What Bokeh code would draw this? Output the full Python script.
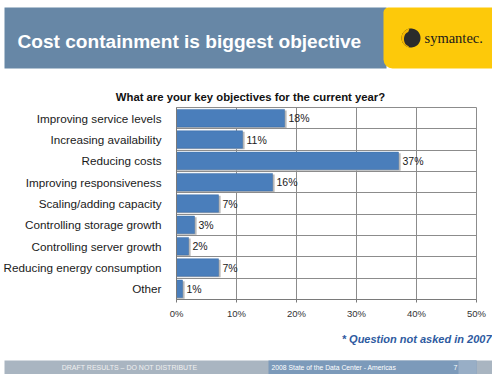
import numpy as np
from bokeh.plotting import figure
from bokeh.layouts import column
from bokeh.models import (Range1d, FixedTicker, PrintfTickFormatter, ColumnDataSource)
from bokeh.core.properties import value
from bokeh.transform import dodge
from bokeh.embed import file_html
from bokeh.resources import INLINE

# ---- data ----
categories = ["Improving service levels", "Increasing availability", "Reducing costs",
              "Improving responsiveness", "Scaling/adding capacity",
              "Controlling storage growth", "Controlling server growth",
              "Reducing energy consumption", "Other"]
percents = [18, 11, 37, 16, 7, 3, 2, 7, 1]
x_ticks = [0, 10, 20, 30, 40, 50]
title_text = "Cost containment is biggest objective"
subtitle_text = "What are your key objectives for the current year?"
note_text = "* Question not asked in 2007"
footer_left = "DRAFT RESULTS \u2013 DO NOT DISTRIBUTE"
footer_mid = "2008 State of the Data Center - Americas"
footer_page = "7"
logo_text = "symantec."

W = 492
FONT = "Liberation Sans"
H1, H2, H3 = 104, 218, 52   # banner, chart, footer heights


def no_align(f):
    try:
        f.frame_align = False
    except Exception:
        pass


def blank(h, y0):
    """Decoration figure whose data units are page pixels."""
    f = figure(width=W, height=h, output_backend="svg", toolbar_location=None,
               x_range=Range1d(0, W), y_range=Range1d(y0 + h, y0),
               x_axis_location=None, y_axis_location=None,
               min_border=0, title=None)
    f.grid.visible = False
    f.outline_line_color = None
    f.background_fill_color = "white"
    f.border_fill_color = "white"
    no_align(f)
    return f


def txt(f, x, y, t, size, color, align="left", style="normal", font=FONT):
    f.text(x=[x], y=[y], text=[t], text_font=value(font), text_font_size=size,
           text_color=color, text_align=align, text_baseline="middle",
           text_font_style=style)


# ---------- banner ----------
top = blank(H1, 0)
top.quad(left=[4], right=[386], top=[7], bottom=[68], fill_color="#6787a6", line_color=None)
top.quad(left=[383], right=[494], top=[7], bottom=[68], fill_color="#fdc90a",
         line_color=None, border_radius=(5, 0, 0, 9))
txt(top, 17, 41, title_text, "19.1px", "white", style="bold")
t = np.linspace(0, 2 * np.pi, 60)
cx, cy, r = 410.5, 37.5, 9.5
top.patch(cx + r * np.cos(t), cy + r * np.sin(t), fill_color="#2b2b2b", line_color=None)
t2 = np.linspace(np.pi * 0.55, np.pi * 1.45, 30)
xs2 = np.concatenate([cx + r * np.cos(t2), cx - 2 + 5 * np.cos(t2[::-1])])
ys2 = np.concatenate([cy + r * np.sin(t2), cy + 1 + 7 * np.sin(t2[::-1])])
top.patch(xs2, ys2, fill_color="#f6b800", line_color=None)
txt(top, 424, 37, logo_text, "14.5px", "#1a1a1a", font="Liberation Serif")
txt(top, 250, 96, subtitle_text, "11.3px", "#111111", align="center", style="bold")

# ---------- chart ----------
n = len(categories)
centers = [i + 0.5 for i in range(n)]
labels = [f"{v}%" for v in percents]
src = ColumnDataSource(dict(y=centers, v=percents, lab=labels))

p = figure(width=W, height=H2, output_backend="svg", toolbar_location=None,
           x_range=Range1d(0, 50), y_range=Range1d(n, 0), title=None,
           min_border_left=175, min_border_right=W - 476, min_border_top=3,
           min_border_bottom=23)
no_align(p)
p.background_fill_color = "white"
p.border_fill_color = "white"
p.outline_line_color = "#8c8c8c"
p.outline_line_width = 1

p.hbar(y=dodge("y", 0.05), right=dodge("v", 0.35), left=0, height=0.82, source=src,
       fill_color="#b8b8b8", line_color=None)
p.hbar(y="y", right="v", left=0, height=0.82, source=src,
       fill_color="#4a7ebb", line_color="#3d6ea8", line_width=0.5)
p.text(x="v", y="y", text="lab", source=src, x_offset=4,
       text_baseline="middle", text_align="left", text_font=value(FONT),
       text_font_size="10.5px", text_color="#1a1a1a")

xa = p.xaxis[0]
xa.ticker = FixedTicker(ticks=x_ticks)
xa.formatter = PrintfTickFormatter(format="%d%%")
xa.axis_line_color = "#7a7a7a"
xa.major_tick_line_color = "#7a7a7a"
xa.major_tick_out = 3
xa.major_tick_in = 0
xa.minor_tick_line_color = None
xa.major_label_standoff = 5
xa.major_label_text_font = FONT
xa.major_label_text_font_size = "9.5px"
xa.major_label_text_color = "#333333"

ya = p.yaxis[0]
ya.ticker = FixedTicker(ticks=centers)
ya.major_label_overrides = {c: cat for c, cat in zip(centers, categories)}
ya.axis_line_color = "#7a7a7a"
ya.major_tick_line_color = None
ya.minor_tick_line_color = None
ya.major_label_standoff = 9
ya.major_label_text_font = FONT
ya.major_label_text_font_size = "11.7px"
ya.major_label_text_color = "#1a1a1a"

p.xgrid.grid_line_color = "#8c8c8c"
p.ygrid.grid_line_color = "#8c8c8c"
p.ygrid.ticker = FixedTicker(ticks=list(range(n + 1)))

# ---------- footer ----------
bot = blank(H3, H1 + H2)
txt(bot, 491, 338, note_text, "11px", "#2e5aa0", align="right", style="bold italic")
bot.quad(left=[4], right=[493], top=[360], bottom=[374], fill_color="#a9b5c1", line_color=None)
bot.quad(left=[268], right=[476], top=[360], bottom=[374], fill_color="#7c9aba", line_color=None)
bot.quad(left=[458], right=[476], top=[360], bottom=[374], fill_color="#98aec6", line_color=None)
txt(bot, 129, 367, footer_left, "7px", "#f0f0f0", align="center")
txt(bot, 271, 367, footer_mid, "6.8px", "white")
txt(bot, 455, 367, footer_page, "7px", "white", align="center")

layout = column(top, p, bot, spacing=0)
open("out.html", "w").write(file_html(layout, INLINE))
